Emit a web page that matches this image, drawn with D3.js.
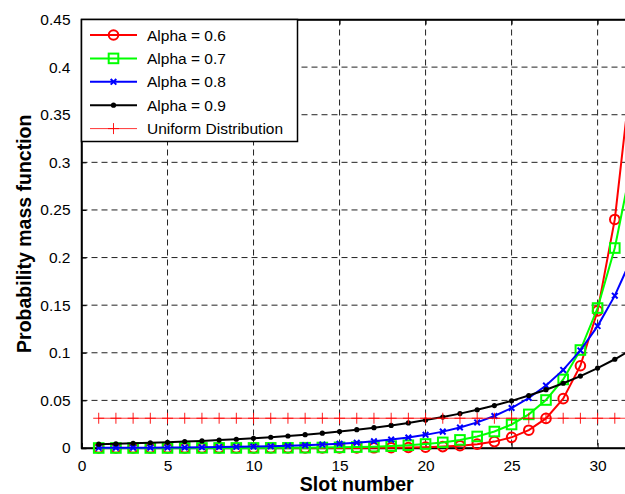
<!DOCTYPE html>
<html>
<head>
<meta charset="utf-8">
<script src="https://cdn.jsdelivr.net/npm/d3@7"></script>
<style>
  body { margin: 0; background: #fff; }
  svg { display: block; font-family: "Liberation Sans", Arial, sans-serif; }
</style>
</head>
<body>
<div class="chart"></div>
<script>
// PMF of slot selection, one truncated-geometric curve per alpha, plus uniform
var slots = [1, 2, 3, 4, 5, 6, 7, 8, 9, 10, 11, 12, 13, 14, 15, 16,
  17, 18, 19, 20, 21, 22, 23, 24, 25, 26, 27, 28, 29, 30, 31, 32]

var alpha06 = [0, 0, 0, 0, 0, 0, 0, 0, 0, 0, 0, 0.00001, 0.00002, 0.00004, 0.00007, 0.00011,
  0.00019, 0.00031, 0.00052, 0.00087, 0.00145, 0.00242, 0.00403, 0.00672, 0.0112, 0.0187,
  0.0311, 0.0518, 0.0864, 0.144, 0.24, 0.4]
var alpha07 = [0, 0.00001, 0.00001, 0.00001, 0.00002, 0.00003, 0.00004, 0.00006, 0.00008, 0.00011,
  0.00016, 0.0002, 0.0003, 0.0005, 0.0007, 0.001, 0.0014, 0.002, 0.0029, 0.0042, 0.0059,
  0.0085, 0.0121, 0.0173, 0.0247, 0.0353, 0.0504, 0.072, 0.1029, 0.147, 0.21, 0.3]
var alpha08 = [0.0002, 0.00025, 0.00031, 0.00039, 0.00048, 0.0006, 0.00075, 0.00094, 0.0012, 0.0015,
  0.0018, 0.0023, 0.0029, 0.0036, 0.0045, 0.0056, 0.007, 0.0088, 0.011, 0.0138, 0.0172,
  0.0215, 0.0269, 0.0336, 0.042, 0.0525, 0.0656, 0.082, 0.1025, 0.128, 0.16, 0.2]
var alpha09 = [0.004, 0.0044, 0.0049, 0.0054, 0.006, 0.0067, 0.0074, 0.0083, 0.0092, 0.0102,
  0.0113, 0.0126, 0.014, 0.0156, 0.0173, 0.0192, 0.0213, 0.0237, 0.0263, 0.0293, 0.0325,
  0.0361, 0.0401, 0.0446, 0.0495, 0.0551, 0.0612, 0.068, 0.0755, 0.0839, 0.0932, 0.1036]
var uniform = [0.03125, 0.03125, 0.03125, 0.03125, 0.03125, 0.03125, 0.03125, 0.03125,
  0.03125, 0.03125, 0.03125, 0.03125, 0.03125, 0.03125, 0.03125, 0.03125,
  0.03125, 0.03125, 0.03125, 0.03125, 0.03125, 0.03125, 0.03125, 0.03125,
  0.03125, 0.03125, 0.03125, 0.03125, 0.03125, 0.03125, 0.03125, 0.03125]

var seriesNames = ['Alpha = 0.6', 'Alpha = 0.7', 'Alpha = 0.8', 'Alpha = 0.9', 'Uniform Distribution']
var xTicks = [0, 5, 10, 15, 20, 25, 30]
var yTicks = [0, 0.05, 0.1, 0.15, 0.2, 0.25, 0.3, 0.35, 0.4, 0.45]
var yTickLabels = ['0', '0.05', '0.1', '0.15', '0.2', '0.25', '0.3', '0.35', '0.4', '0.45']

var series = [
  {name: seriesNames[0], vals: alpha06, color: '#ff0000', width: 2, marker: 'circle'},
  {name: seriesNames[1], vals: alpha07, color: '#00ff00', width: 2, marker: 'square'},
  {name: seriesNames[2], vals: alpha08, color: '#0000ff', width: 2, marker: 'x'},
  {name: seriesNames[3], vals: alpha09, color: '#000000', width: 2, marker: 'dot'},
  {name: seriesNames[4], vals: uniform, color: '#ff0000', width: 0.8, marker: 'plus'}
]

var W = 625, H = 494
var margin = {top: 19.5, left: 81.5, bottom: 46}
var plotW = 550.5
var plotH = H - margin.top - margin.bottom

var svg = d3.select('.chart').append('svg').attr('width', W).attr('height', H)
var g = svg.append('g').attr('transform', 'translate(' + margin.left + ',' + margin.top + ')')

var x = d3.scaleLinear().domain([0, 32]).range([0, plotW])
var y = d3.scaleLinear().domain([0, 0.45]).range([plotH, 0])

// grid (dashed, matlab style)
g.append('g').selectAll('line').data(xTicks.slice(1)).join('line')
  .attr('x1', x).attr('x2', x).attr('y1', 0).attr('y2', plotH)
  .attr('stroke', '#222').attr('stroke-width', 1).attr('stroke-dasharray', '6,4')
g.append('g').selectAll('line').data(yTicks.slice(1, -1)).join('line')
  .attr('y1', y).attr('y2', y).attr('x1', 0).attr('x2', plotW)
  .attr('stroke', '#222').attr('stroke-width', 1).attr('stroke-dasharray', '6,4')

// axes with inward ticks
var xAxis = d3.axisBottom(x).tickValues(xTicks).tickSize(-5).tickPadding(12).tickFormat(d3.format('d'))
var yAxis = d3.axisLeft(y).tickValues(yTicks).tickSize(-5).tickPadding(11)
  .tickFormat(function(d, i){ return yTickLabels[i] })
var gx = g.append('g').attr('transform', 'translate(0,' + plotH + ')').call(xAxis)
var gy = g.append('g').call(yAxis)
g.append('g').call(d3.axisTop(x).tickValues(xTicks).tickSize(-5).tickFormat(''))
;[gx, gy].forEach(function(a){
  a.selectAll('text').attr('font-size', 15.5).attr('fill', '#000').attr('font-family', '"Liberation Sans", Arial, sans-serif')
})
g.selectAll('.domain').attr('stroke', '#000').attr('stroke-width', 1.5)
g.selectAll('.tick line').attr('stroke', '#000')

// frame
g.append('rect').attr('width', plotW + 20).attr('height', plotH)
  .attr('fill', 'none').attr('stroke', '#000').attr('stroke-width', 1.5)

// data
var line = d3.line().x(function(d){ return x(d[0]) }).y(function(d){ return y(d[1]) })

function drawMarker(sel, s, cx, cy){
  if (s.marker == 'circle'){
    sel.append('circle').attr('cx', cx).attr('cy', cy).attr('r', 4.8)
      .attr('fill', 'none').attr('stroke', s.color).attr('stroke-width', 2)
  } else if (s.marker == 'square'){
    sel.append('rect').attr('x', cx - 4.8).attr('y', cy - 4.8).attr('width', 9.6).attr('height', 9.6)
      .attr('fill', 'none').attr('stroke', s.color).attr('stroke-width', 2)
  } else if (s.marker == 'x'){
    sel.append('path').attr('d', 'M' + (cx - 2.8) + ',' + (cy - 2.8) + 'L' + (cx + 2.8) + ',' + (cy + 2.8) +
      'M' + (cx - 2.8) + ',' + (cy + 2.8) + 'L' + (cx + 2.8) + ',' + (cy - 2.8))
      .attr('stroke', s.color).attr('stroke-width', 2)
  } else if (s.marker == 'dot'){
    sel.append('circle').attr('cx', cx).attr('cy', cy).attr('r', 2.6).attr('fill', s.color)
  } else if (s.marker == 'plus'){
    sel.append('path').attr('d', 'M' + (cx - 5.5) + ',' + cy + 'L' + (cx + 5.5) + ',' + cy +
      'M' + cx + ',' + (cy - 5.5) + 'L' + cx + ',' + (cy + 5.5))
      .attr('stroke', s.color).attr('stroke-width', 0.9)
  }
}

series.forEach(function(s){
  var pts = slots.map(function(k, i){ return [k, s.vals[i]] })
  var sg = g.append('g')
  sg.append('path').attr('d', line(pts)).attr('fill', 'none')
    .attr('stroke', s.color).attr('stroke-width', s.width)
  pts.forEach(function(p){ drawMarker(sg, s, x(p[0]), y(p[1])) })
})

// legend box, top-left corner of the axes
var leg = g.append('g')
leg.append('rect').attr('x', 0).attr('y', 0).attr('width', 216).attr('height', 122)
  .attr('fill', '#fff').attr('stroke', '#000').attr('stroke-width', 1.5)
series.forEach(function(s, i){
  var ly = 15.5 + i * 23.4
  leg.append('line').attr('x1', 8.5).attr('x2', 55.5).attr('y1', ly).attr('y2', ly)
    .attr('stroke', s.color).attr('stroke-width', s.width)
  drawMarker(leg, s, 32, ly)
  leg.append('text').text(s.name).attr('x', 65.5).attr('y', ly).attr('dy', '0.36em')
    .attr('font-size', 15.5).attr('fill', '#000')
})

// axis labels
svg.append('text').text('Slot number')
  .attr('x', margin.left + plotW / 2).attr('y', 491)
  .attr('text-anchor', 'middle').attr('font-size', 19.5).attr('font-weight', 'bold')
svg.append('text').text('Probability mass function')
  .attr('transform', 'translate(31,' + (margin.top + plotH / 2) + ') rotate(-90)')
  .attr('text-anchor', 'middle').attr('font-size', 19.5).attr('font-weight', 'bold')
</script>
</body>
</html>
